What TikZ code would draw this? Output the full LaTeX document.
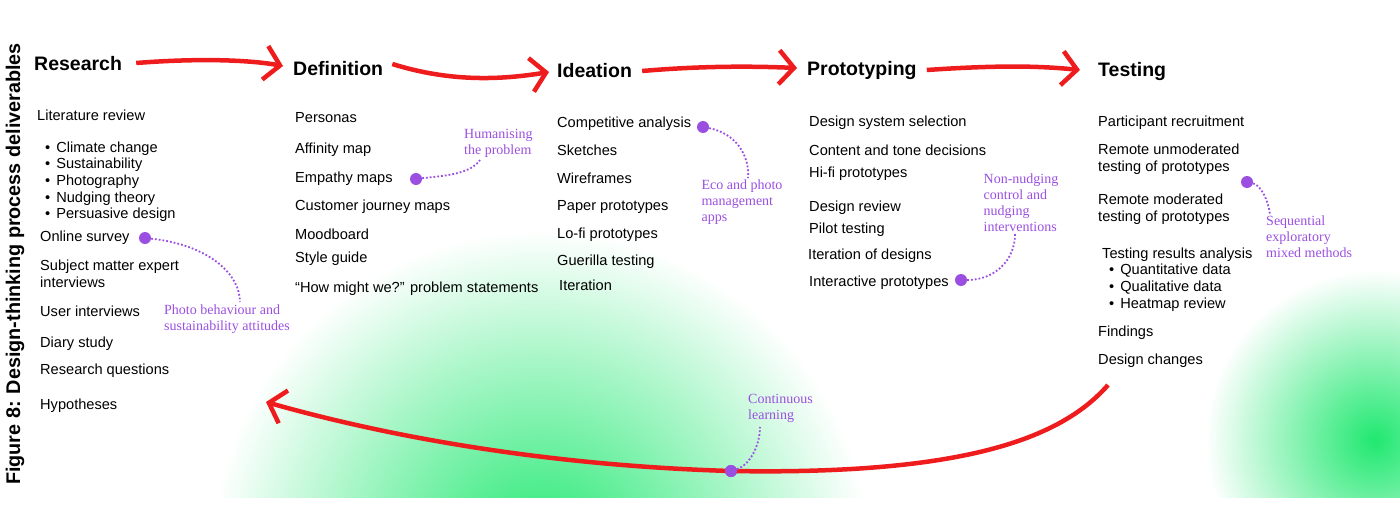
\documentclass[tikz,border=0pt]{standalone}
\usepackage{fontspec}
\setmainfont{Liberation Sans}
\newfontfamily\annfont{Liberation Serif}
\usetikzlibrary{arrows.meta}
\definecolor{annc}{HTML}{9B4FE0}
\definecolor{arr}{HTML}{EE1C1C}
\definecolor{glow}{HTML}{20E870}
\begin{document}
\begin{tikzpicture}[x=1pt,y=-1pt,
  item/.style={anchor=west,inner sep=0pt,font=\fontsize{14.6}{17}\selectfont,align=left},
  head/.style={anchor=west,inner sep=0pt,font=\fontsize{19.5}{21}\selectfont\bfseries},
  ann/.style={inner sep=0pt,text=annc,font=\annfont\fontsize{14}{16}\selectfont,align=left},
  dot/.style={circle,fill=annc,inner sep=0pt,minimum size=12pt},
  link/.style={draw=annc,line width=1.8pt,dotted},
  flow/.style={arr,line width=4.5pt,-{Straight Barb[length=15pt,width=34pt,line width=4.5pt]}}]
\useasboundingbox (0,0) rectangle (1400,517);
\begin{scope}
\clip (0,0) rectangle (1400,497);
\shade[inner color=glow,outer color=white] (540,560) circle (330);
\shade[inner color=glow,outer color=white] (1375,440) circle (170);
\end{scope}
\node[rotate=90,font=\fontsize{19.8}{21}\selectfont\bfseries,inner sep=0pt] (title) at (15,264) {Figure 8: Design-thinking process deliverables};
% headers
\node[head] (h1) at (34,64) {Research};
\node[head] (h2) at (293,69) {Definition};
\node[head] (h3) at (557,71) {Ideation};
\node[head] (h4) at (807,70) {Prototyping};
\node[head] (h5) at (1098,71) {Testing};
\draw[flow] ([xshift=14pt,yshift=1pt]h1.east) .. controls (200,58) and (250,60) .. ([xshift=-10pt,yshift=3pt]h2.west);
\draw[flow] ([xshift=9pt,yshift=5pt]h2.east) .. controls (450,82) and (500,80) .. ([xshift=-8pt,yshift=-1pt]h3.west);
\draw[flow] ([xshift=10pt]h3.east) .. controls (700,66) and (750,66) .. ([xshift=-10pt,yshift=2pt]h4.west);
\draw[flow] ([xshift=10pt]h4.east) .. controls (1000,65) and (1040,66) .. ([xshift=-18pt,yshift=1pt]h5.west);
% research
\node[item] (r1) at (37,115) {Literature review};
\foreach \t/\y [count=\i] in {Climate change/149,Sustainability/165,Photography/182,Nudging theory/199,Persuasive design/215}{
  \node[item] (rb\i) at (45,\y) {\textbullet\hspace{6pt}\t};}
\node[item] (r2) at (40,238) {Online survey};
\node[item] (r3) at (40,274) {Subject matter expert\\interviews};
\node[item] (r4) at (40,311) {User interviews};
\node[item] (r5) at (40,344) {Diary study};
\node[item] (r6) at (40,371) {Research questions};
\node[item] (r7) at (40,406) {Hypotheses};
% definition
\node[item] (d1) at (295,118) {Personas};
\node[item] (d2) at (295,150) {Affinity map};
\node[item] (d3) at (295,179) {Empathy maps};
\node[item] (d4) at (295,207) {Customer journey maps};
\node[item] (d5) at (295,234) {Moodboard};
\node[item] (d6) at (295,259) {Style guide};
\node[item] (d7) at (295,289) {“How might we?” problem statements};
% ideation
\node[item] (i1) at (557,124) {Competitive analysis};
\node[item] (i2) at (557,150) {Sketches};
\node[item] (i3) at (557,178) {Wireframes};
\node[item] (i4) at (557,207) {Paper prototypes};
\node[item] (i5) at (557,235) {Lo-fi prototypes};
\node[item] (i6) at (557,262) {Guerilla testing};
\node[item] (i7) at (559,285) {Iteration};
% prototyping
\node[item] (p1) at (809,123) {Design system selection};
\node[item] (p2) at (809,150) {Content and tone decisions};
\node[item] (p3) at (809,174) {Hi-fi prototypes};
\node[item] (p4) at (809,208) {Design review};
\node[item] (p5) at (809,230) {Pilot testing};
\node[item] (p6) at (808,256) {Iteration of designs};
\node[item] (p7) at (809,283) {Interactive prototypes};
% testing
\node[item] (t1) at (1098,123) {Participant recruitment};
\node[item] (t2) at (1098,159) {Remote unmoderated\\testing of prototypes};
\node[item] (t3) at (1098,209) {Remote moderated\\testing of prototypes};
\node[item] (t4) at (1102,255) {Testing results analysis};
\foreach \t/\y [count=\i] in {Quantitative data/271,Qualitative data/288,Heatmap review/305}{
  \node[item] (tb\i) at (1109,\y) {\textbullet\hspace{6pt}\t};}
\node[item] (t5) at (1098,333) {Findings};
\node[item] (t6) at (1098,361) {Design changes};
% return arrow
\node[dot] (c0) at (731,471) {};
\coordinate (rs) at (1108,385);
\coordinate (re) at (266,402);
\draw[flow] (rs) .. controls (1060,440) and (960,475) .. (c0.center) .. controls (560,466) and (400,440) .. (re);
\node[dot] at (c0) {};
% annotations
\node[dot] (n1) at (145,238) {};
\node[ann,anchor=north west] (l1) at (164,305) {Photo behaviour and\\sustainability attitudes};
\draw[link] (n1) .. controls (210,245) and (240,275) .. (240,302);
\node[dot] (n2) at (416,179) {};
\node[ann,anchor=south west] (l2) at (464,158) {Humanising\\the problem};
\draw[link] (n2) .. controls (440,176) and (470,175) .. (480,160);
\node[dot] (n3) at (703,127) {};
\node[ann,anchor=north] (l3) at (742,180) {Eco and photo\\management\\apps};
\draw[link] (n3) .. controls (735,133) and (750,155) .. (748,178);
\node[dot] (n4) at (961,280) {};
\node[ann,anchor=south] (l4) at (1021,232) {Non-nudging\\control and\\nudging\\interventions};
\draw[link] (n4) .. controls (995,280) and (1015,260) .. (1015,234);
\node[dot] (n5) at (1247,182) {};
\node[ann,anchor=north west] (l5) at (1266,216) {Sequential\\exploratory\\mixed methods};
\draw[link] (n5) .. controls (1260,185) and (1268,198) .. (1270,215);
\node[ann,anchor=south west] (l6) at (748,423) {Continuous\\learning};
\draw[link] (c0) .. controls (750,465) and (760,445) .. (760,427);
\end{tikzpicture}
\end{document}
